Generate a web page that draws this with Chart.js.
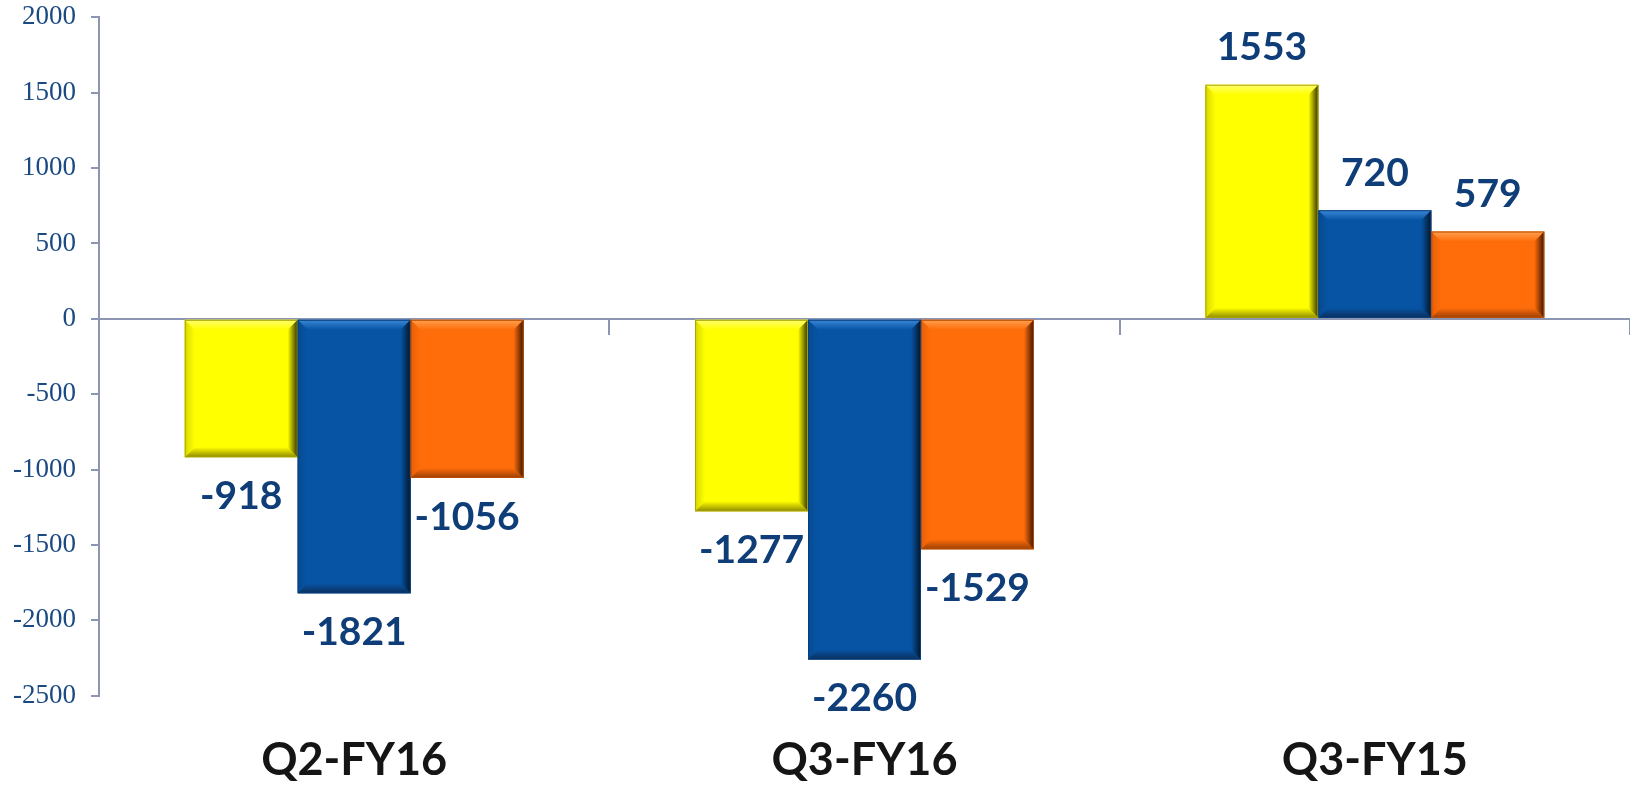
<!DOCTYPE html>
<html><head><meta charset="utf-8">
<style>html,body{margin:0;padding:0;background:#fff;overflow:hidden}#wrap{position:relative;width:1630px;height:787px}</style>
<script src="https://cdn.jsdelivr.net/npm/chart.js@4.4.0/dist/chart.umd.min.js"></script>
</head><body><div id="wrap"><canvas id="c" width="1630" height="787"></canvas></div>
<script>
const categories = ['Q2-FY16', 'Q3-FY16', 'Q3-FY15'];
const seriesYellow = [-918, -1277, 1553];
const seriesBlue = [-1821, -2260, 720];
const seriesOrange = [-1056, -1529, 579];
const yTicksMin = -2500, yTicksMax = 2000, yTicksStep = 500;

const axisColor = '#8C96B2';
const tickLabelColor = '#1B4A82';
const dataLabelColor = '#0E3D78';

const palettes = [
  {base:'#FFFF00', light:'#FFFF70', edgeL:'#D8D800', dark:'#2E2E00', bottom:'#8F8A00', outline:'#A8A300'},
  {base:'#0754A4', light:'#3A88D8', edgeL:'#064A92', dark:'#011528', bottom:'#0A2F5C', outline:'#0A3F7A'},
  {base:'#FF6D0A', light:'#FFA050', edgeL:'#E86008', dark:'#3A1500', bottom:'#9A3E04', outline:'#B84E02'}
];

function poly(ctx, pts, fill){
  ctx.beginPath(); ctx.moveTo(pts[0][0], pts[0][1]);
  for (let k=1;k<pts.length;k++) ctx.lineTo(pts[k][0], pts[k][1]);
  ctx.closePath(); ctx.fillStyle = fill; ctx.fill();
}

const bevelPlugin = {
  id: 'bevel',
  afterDatasetsDraw(chart){
    const ctx = chart.ctx;
    ctx.save();
    chart.data.datasets.forEach((ds, i) => {
      const meta = chart.getDatasetMeta(i);
      const pal = palettes[i];
      meta.data.forEach((el, j) => {
        const p = el.getProps(['x','y','base','width'], true);
        const L = p.x - p.width/2, R = p.x + p.width/2;
        const T = Math.min(p.y, p.base), B = Math.max(p.y, p.base);
        const b = Math.min(10, (B-T)/2, (R-L)/2);
        let g;
        g = ctx.createLinearGradient(L,0,L+b,0); g.addColorStop(0,pal.edgeL); g.addColorStop(1,pal.base);
        poly(ctx, [[L,T],[L,B],[L+b,B-b],[L+b,T+b]], g);
        g = ctx.createLinearGradient(0,T,0,T+b); g.addColorStop(0,pal.light); g.addColorStop(1,pal.base);
        poly(ctx, [[L,T],[R,T],[R-b,T+b],[L+b,T+b]], g);
        g = ctx.createLinearGradient(0,B-b,0,B); g.addColorStop(0,pal.base); g.addColorStop(1,pal.bottom);
        poly(ctx, [[L,B],[R,B],[R-b,B-b],[L+b,B-b]], g);
        g = ctx.createLinearGradient(R-b,0,R,0); g.addColorStop(0,pal.base); g.addColorStop(1,pal.dark);
        poly(ctx, [[R,T],[R,B],[R-b,B-b],[R-b,T+b]], g);
        ctx.strokeStyle = pal.outline; ctx.lineWidth = 1;
        ctx.strokeRect(L+0.5, T+0.5, R-L-1, B-T-1);
      });
    });
    ctx.fillStyle = dataLabelColor;
    ctx.font = 'bold 39px Lato';
    ctx.textAlign = 'center';
    ctx.textBaseline = 'middle';
    chart.data.datasets.forEach((ds, i) => {
      const meta = chart.getDatasetMeta(i);
      meta.data.forEach((el, j) => {
        const v = ds.data[j];
        const p = el.getProps(['x','y'], true);
        const yy = v >= 0 ? p.y - 37 : p.y + 39;
        ctx.fillText(String(v), p.x, yy);
      });
    });
    ctx.restore();
  }
};

new Chart(document.getElementById('c'), {
  type: 'bar',
  data: {
    labels: categories,
    datasets: [
      {label:'Series 1', data: seriesYellow, backgroundColor: palettes[0].base, xAxisID:'x', yAxisID:'y'},
      {label:'Series 2', data: seriesBlue, backgroundColor: palettes[1].base, xAxisID:'x', yAxisID:'y'},
      {label:'Series 3', data: seriesOrange, backgroundColor: palettes[2].base, xAxisID:'x', yAxisID:'y'}
    ]
  },
  options: {
    responsive: false,
    animation: false,
    devicePixelRatio: 1,
    datasets: { bar: { categoryPercentage: 0.664, barPercentage: 1.0, borderWidth: 0 } },
    layout: { padding: { top: 17.3, right: 0, bottom: 0, left: 0 } },
    plugins: { legend: { display: false }, tooltip: { enabled: false } },
    scales: {
      x: {
        type: 'category', position: 'bottom', offset: true,
        grid: { display: false, drawTicks: false },
        border: { display: false },
        ticks: { padding: 38, color: '#151515', font: { family: 'Lato', weight: 'bold', size: 45 } },
        afterFit(s){ s.height = 91.3; }
      },
      x2: {
        type: 'category', position: { y: 0 }, offset: true,
        grid: { display: true, offset: true, drawOnChartArea: false, drawTicks: true, tickLength: 16, color: axisColor, lineWidth: 2 },
        border: { display: false },
        ticks: { display: false }
      },
      y: {
        type: 'linear', position: 'left', min: yTicksMin, max: yTicksMax,
        ticks: { stepSize: yTicksStep, padding: 15, color: tickLabelColor, font: { family: 'Liberation Serif', size: 27 },
          callback: v => String(v) },
        grid: {
          color: c => (c.tick && c.tick.value === 0) ? axisColor : 'rgba(0,0,0,0)',
          tickColor: axisColor, lineWidth: 2, tickLength: 8, drawTicks: true
        },
        border: { display: true, color: axisColor, width: 2 },
        afterFit(s){ s.width = 99; s.paddingTop = 0; s.paddingBottom = 0; }
      }
    }
  },
  plugins: [bevelPlugin]
});
</script></body></html>
